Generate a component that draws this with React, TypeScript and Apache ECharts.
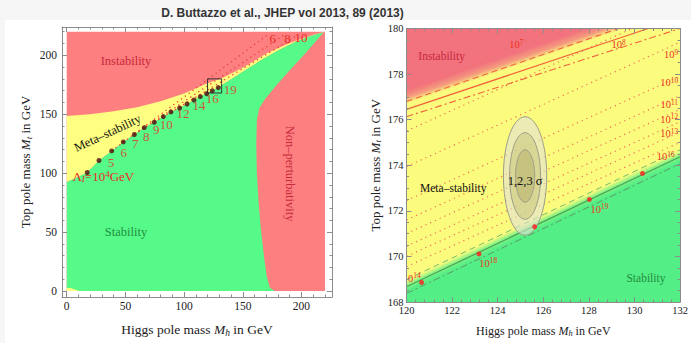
import React, { useEffect, useRef } from 'react';
import * as echarts from 'echarts';

type P = [number, number];

// ================= Left panel: full (Mh, Mt) plane =================
const leftMajorTicks = [0, 50, 100, 150, 200];
const leftPlotBox: P[] = [[0, 0], [220, 0], [220, 220], [0, 220]];
// upper edge of the meta-stable band (instability boundary)
const instabilityEdge: P[] = [[0, 148.5], [20, 150], [40, 152.5], [60, 156], [80, 161], [100, 167.5], [120, 176.3], [132, 180.5], [150, 189.5], [170, 201.5], [190, 210.5], [210, 217.5], [220, 220]];
// lower edge of the meta-stable band (stability boundary)
const stabilityEdge: P[] = [[0, 92.5], [8, 96], [17.5, 100.6], [27.5, 110.8], [38.3, 118.9], [48.2, 126.5], [57.6, 132.8], [66.1, 138.7], [74.6, 143.2], [82.3, 148], [88.8, 152], [96.2, 155.3], [102.5, 158.7], [108.4, 162.1], [113.8, 165], [119.2, 167.8], [124, 170.2], [129.1, 172.7], [135, 176.5], [150, 186], [165, 195.5], [180, 204], [195, 211.5], [210, 217], [219, 219.5]];
// right edge of the stable region (non-perturbativity boundary), top to bottom
const perturbativityEdge: P[] = [[219, 219.5], [213, 212.7], [203, 201.4], [190, 187.3], [177.4, 173.1], [169, 163], [164, 155], [162, 145], [161.5, 125], [162, 100], [163.5, 75], [165.5, 52], [168, 30], [170.5, 12], [173, 3], [177, 0]];
const lowCornerSliver: P[] = [[0, 0], [0, 2.8], [4, 2.4], [9, 0.8], [11, 0]];
// cut-off scale dots along the stability boundary
const lambdaDots: P[] = [[17.5, 100.6], [27.5, 110.8], [38.3, 118.9], [48.2, 126.5], [57.6, 132.8], [66.1, 138.7], [74.6, 143.2], [82.3, 148], [88.8, 152], [96.2, 155.3], [102.5, 158.7], [108.4, 162.1], [113.8, 165], [119.2, 167.5], [124, 170], [129.1, 172.6]];
const lambdaExponents = [4, 5, 6, 7, 8, 9, 10, 11, 12, 13, 14, 15, 16, 17, 18, 19];
const labelledExponents = [5, 6, 7, 8, 9, 10, 12, 14, 16, 19];
// dotted instability-scale contours
const lambdaContours: P[][] = [
  [[38.3, 118.9], [172, 218]],
  [[57.6, 132.8], [185, 217]],
  [[74.6, 143.2], [197, 217]],
];
const lambdaContourLabels = ['6', '8', '10'];
const lambdaContourLabelAt: P[] = [[175.5, 214.2], [188, 214.2], [199.5, 215.5]];
const zoomWindow: P[] = [[120, 168], [132, 168], [132, 180], [120, 180], [120, 168]];
const leftRegionNames = ['Instability', 'Meta\u2013stability', 'Stability', 'Non\u2013perturbativity'];
const leftRegionAt: P[] = [[50.5, 195], [34.8, 134], [50.5, 50.3], [190.2, 99.7]];
const lambdaStartAt: P[] = [[31.2, 97.2]];

// ================= Right panel: zoom on 120-132 x 168-180 =================
const rightXMajor = [120, 122, 124, 126, 128, 130, 132];
const rightYMajor = [168, 170, 172, 174, 176, 178, 180];
const rightPlotBox: P[] = [[120, 168], [132, 168], [132, 180], [120, 180]];
const redFadeEdge: P[] = [[120, 176.7], [129.6, 180]];
const redFullEdge: P[] = [[120, 177.3], [127.2, 180]];
const greenFadeEdge: P[] = [[120, 168.95], [132, 174.65]];
const greenFullEdge: P[] = [[120, 168.45], [132, 174.1]];
const instSolid: P[] = [[120, 176.45], [130.6, 180]];
const instDashed: P[] = [[120, 176.8], [129.3, 180]];
const instDashDot: P[] = [[120, 176.13], [132, 180]];
const stabSolid: P[] = [[120, 168.67], [132, 174.37]];
const stabDashed: P[] = [[120, 168.98], [132, 174.68]];
const stabDashDot: P[] = [[120, 168.38], [132, 174.07]];
const rightLambdaLines: P[][] = [
  [[120, 177.1], [132, 182.56]],
  [[120, 175.5], [132, 180.96]],
  [[120, 173.94], [132, 179.4]],
  [[120, 172.45], [132, 177.91]],
  [[120, 171.6], [132, 177.06]],
  [[120, 171.0], [132, 176.46]],
  [[120, 170.45], [132, 175.91]],
  [[120, 170.0], [132, 175.46]],
  [[120, 169.55], [132, 175.01]],
];
const rightLambdaExp = ['7', '8', '9', '10', '11', '12', '13', '16', '19', '18', '14'];
const rightLambdaAt: P[] = [[124.82, 179.28], [129.3, 179.28], [131.6, 178.84], [131.52, 177.62], [131.52, 176.66], [131.52, 176.02], [131.52, 175.38], [131.37, 174.37], [128.46, 172.07], [123.58, 169.7], [120.23, 169.04]];
const rightDots: P[] = [[120.66, 168.86], [123.18, 170.11], [125.62, 171.3], [128.02, 172.5], [130.35, 173.64]];
const ellipseCenter: P = [125.2, 173.53];
const ellipseRadii: P[] = [[0.95, 2.6], [0.68, 1.9], [0.42, 1.15]]; // 3, 2, 1 sigma
const rightRegionNames = ['Instability', 'Meta\u2013stability', 'Stability', '1,2,3 \u03c3'];
const rightRegionAt: P[] = [[121.54, 178.8], [122.05, 172.99], [130.5, 169.04], [125.2, 173.33]];

const titleText = 'D. Buttazzo et al., JHEP vol 2013, 89 (2013)';

// ================= styles =================
const SERIF = '"Liberation Serif", "Times New Roman", "DejaVu Serif", serif';
const SANS = '"Liberation Sans", Arial, Helvetica, sans-serif';
const FRAME = '#8c8c8c';
const RED_TXT = '#c8283c';
const GREEN_TXT = '#1f8f3e';
const LAMBDA_RED = '#ea2b25';

const steps = (a: number, b: number, s: number) => {
  const out: number[] = [];
  for (let i = 0; a + i * s <= b + 1e-9; i++) out.push(+(a + i * s).toFixed(4));
  return out;
};

function axisSet(dim: 'x' | 'y', gridIndex: number, min: number, max: number, major: number[], minor: number[], labelSize: number, labelMargin: number, name: string, nameGap: number, nameSize: number) {
  const posA = dim === 'x' ? 'bottom' : 'left';
  const posB = dim === 'x' ? 'top' : 'right';
  const sub = { fontFamily: SERIF, fontStyle: 'italic', fontSize: nameSize * 0.7, color: '#222', padding: [nameSize * 0.45, 0, 0, 0] };
  const mk = (position: string, isMajor: boolean, labelled: boolean) => ({
    type: 'value', gridIndex, min, max, position, z: 10, silent: true,
    splitLine: { show: false },
    axisLine: { show: isMajor, onZero: false, lineStyle: { color: FRAME, width: 1 } },
    axisTick: { show: true, inside: true, length: isMajor ? 5 : 2.5, customValues: isMajor ? major : minor, lineStyle: { color: FRAME, width: 1 } },
    axisLabel: labelled
      ? { show: true, customValues: major, margin: labelMargin, fontFamily: SERIF, fontSize: labelSize, color: '#222' }
      : { show: false },
    ...(labelled
      ? {
          name, nameLocation: 'middle', nameGap,
          nameTextStyle: {
            fontFamily: SERIF, fontSize: nameSize, color: '#222',
            rich: {
              a: { fontFamily: SERIF, fontSize: nameSize, color: '#222' },
              m: { fontFamily: SERIF, fontSize: nameSize, color: '#222', fontStyle: 'italic' },
              s: sub,
            },
          },
        }
      : {}),
  });
  return [mk(posA, true, true), mk(posA, false, false), mk(posB, true, false), mk(posB, false, false)];
}

const axIdx = (g: number) => (g === 0 ? 0 : 4);

function polyLayer(g: number, pts: P[], fill: string, z: number) {
  return {
    type: 'custom', xAxisIndex: axIdx(g), yAxisIndex: axIdx(g), silent: true, z,
    data: [pts[0]],
    renderItem: (_p: any, api: any) => ({ type: 'polygon', shape: { points: pts.map((q) => api.coord(q)) }, style: { fill } }),
  };
}

function bandLayer(g: number, polygon: P[], fade: P[], full: P[], rgb: string, z: number) {
  return {
    type: 'custom', xAxisIndex: axIdx(g), yAxisIndex: axIdx(g), silent: true, z,
    data: [polygon[0]],
    renderItem: (_p: any, api: any) => {
      const a = api.coord(fade[0]);
      const b = api.coord(fade[1]);
      const f = api.coord(full[0]);
      const dx = b[0] - a[0];
      const dy = b[1] - a[1];
      const len = Math.hypot(dx, dy);
      let nx = dy / len;
      let ny = -dx / len;
      const vx = f[0] - a[0];
      const vy = f[1] - a[1];
      if (nx * vx + ny * vy < 0) { nx = -nx; ny = -ny; }
      const w = Math.abs(nx * vx + ny * vy);
      return {
        type: 'polygon',
        shape: { points: polygon.map((q) => api.coord(q)) },
        style: {
          fill: new echarts.graphic.LinearGradient(a[0], a[1], a[0] + nx * w, a[1] + ny * w, [
            { offset: 0, color: `rgba(${rgb},0)` },
            { offset: 0.45, color: `rgba(${rgb},0.7)` },
            { offset: 1, color: `rgba(${rgb},1)` },
          ], true),
        },
      };
    },
  };
}

function lineLayer(g: number, data: P[], color: string, width: number, type: any, z: number) {
  return {
    type: 'line', xAxisIndex: axIdx(g), yAxisIndex: axIdx(g), data, symbol: 'none', silent: true, z, clip: true,
    lineStyle: { color, width, type },
  };
}

function textLayer(g: number, at: P[], build: (i: number) => any, z: number, clip = false) {
  return {
    type: 'custom', xAxisIndex: axIdx(g), yAxisIndex: axIdx(g), silent: true, z, clip,
    data: at.map((p) => [p[0], p[1]]),
    renderItem: (params: any, api: any) => {
      const p = api.coord([api.value(0), api.value(1)]);
      const el = build(params.dataIndex);
      return { type: 'text', x: p[0], y: p[1], rotation: el.rotation || 0, style: { align: 'center', verticalAlign: 'middle', ...el.style } };
    },
  };
}

const powRich = (size: number, color: string) => ({
  b: { fontFamily: SERIF, fontSize: size, fill: color },
  e: { fontFamily: SERIF, fontSize: size * 0.7, fill: color, padding: [0, 0, size * 0.45, 0] },
  i: { fontFamily: SERIF, fontSize: size * 0.7, fill: color, fontStyle: 'italic', padding: [size * 0.4, 0, 0, 0] },
});

function buildOption() {
  const leftGreen: P[] = [...stabilityEdge, ...perturbativityEdge.slice(1), [0, 0]];
  const leftYellow: P[] = [...instabilityEdge, ...stabilityEdge.slice().reverse()];
  const redPoly: P[] = [[120, 180], redFadeEdge[0], redFadeEdge[1]];
  const greenPoly: P[] = [[120, 168], greenFadeEdge[0], greenFadeEdge[1], [132, 168]];
  const xName = '{a|Higgs pole mass }{m|M}{s|h}{a| in GeV}';
  const yName = '{a|Top pole mass }{m|M}{s|t}{a| in GeV}';

  const series: any[] = [
    // ---- left panel regions
    polyLayer(0, leftPlotBox, '#fd7f80', 1),
    polyLayer(0, leftYellow, '#fefe80', 1),
    polyLayer(0, leftGreen, '#55fa89', 1),
    polyLayer(0, lowCornerSliver, '#fefe80', 1),
    ...lambdaContours.map((c) => lineLayer(0, c, '#e8423a', 1.3, [1.3, 3.5], 3)),
    lineLayer(0, zoomWindow, '#333333', 1, 'solid', 5),
    {
      type: 'scatter', xAxisIndex: 0, yAxisIndex: 0, symbolSize: 5, z: 6, silent: true,
      itemStyle: { color: '#4d0b0b' },
      label: { position: 'inside', offset: [12, 2], color: LAMBDA_RED, fontFamily: SERIF, fontSize: 13 },
      data: lambdaDots.map((p, i) => ({
        value: p,
        label: { show: labelledExponents.includes(lambdaExponents[i]), formatter: String(lambdaExponents[i]) },
      })),
    },
    textLayer(0, lambdaContourLabelAt, (i) => ({ style: { text: lambdaContourLabels[i], fontFamily: SERIF, fontSize: 13, fill: LAMBDA_RED } }), 7),
    textLayer(0, lambdaStartAt, () => ({
      style: {
        text: '{b|\u039b}{i|I}{b|=10}{e|4}{b|GeV}',
        rich: powRich(13, LAMBDA_RED),
      },
    }), 7),
    textLayer(0, leftRegionAt, (i) => ({
      rotation: i === 1 ? (25 * Math.PI) / 180 : i === 3 ? -Math.PI / 2 : 0,
      style: { text: leftRegionNames[i], fontFamily: SERIF, fontSize: 12.5, fill: i === 1 ? '#111' : i === 2 ? GREEN_TXT : RED_TXT },
    }), 7),

    // ---- right panel regions
    polyLayer(1, rightPlotBox, '#fbfb7e', 1),
    bandLayer(1, redPoly, redFadeEdge, redFullEdge, '242,114,126', 1),
    bandLayer(1, greenPoly, greenFadeEdge, greenFullEdge, '84,238,134', 1),
    ...rightLambdaLines.map((l) => lineLayer(1, l, '#f07058', 1.2, [1.2, 4], 3)),
    lineLayer(1, instDashed, '#f0643c', 1.1, [6, 4], 3),
    lineLayer(1, instSolid, '#f0643c', 1.3, 'solid', 3),
    lineLayer(1, instDashDot, '#f0643c', 1.1, [7, 3, 2, 3], 3),
    lineLayer(1, stabDashed, '#6cbf6c', 1, [6, 4], 3),
    lineLayer(1, stabSolid, '#4aa456', 1.2, 'solid', 3),
    lineLayer(1, stabDashDot, '#5f9a66', 1, [7, 3, 2, 3], 3),
    {
      type: 'custom', xAxisIndex: 4, yAxisIndex: 4, silent: true, z: 4,
      data: ellipseRadii.map(() => ellipseCenter),
      renderItem: (params: any, api: any) => {
        const c = api.coord(ellipseCenter);
        const r = ellipseRadii[params.dataIndex];
        const ex = api.coord([ellipseCenter[0] + r[0], ellipseCenter[1]]);
        const ey = api.coord([ellipseCenter[0], ellipseCenter[1] + r[1]]);
        const fills = ['rgba(225,225,215,0.6)', 'rgba(200,195,120,0.5)', 'rgba(180,175,110,0.5)'];
        return {
          type: 'ellipse',
          shape: { cx: c[0], cy: c[1], rx: Math.abs(ex[0] - c[0]), ry: Math.abs(c[1] - ey[1]) },
          style: { fill: fills[params.dataIndex], stroke: '#9f9e88', lineWidth: 1 },
        };
      },
    },
    {
      type: 'scatter', xAxisIndex: 4, yAxisIndex: 4, symbolSize: 5, z: 6, silent: true,
      itemStyle: { color: '#ff1a1a' }, data: rightDots,
    },
    textLayer(1, rightLambdaAt, (i) => ({
      style: { text: `{b|10}{e|${rightLambdaExp[i]}}`, rich: powRich(10.5, '#ee3322') },
    }), 7, true),
    textLayer(1, rightRegionAt, (i) => ({
      style: {
        text: rightRegionNames[i], fontFamily: SERIF, fontSize: i === 3 ? 12.5 : 11.5,
        fill: i === 0 ? RED_TXT : i === 2 ? GREEN_TXT : '#111',
      },
    }), 7),
  ];

  return {
    animation: false,
    backgroundColor: 'transparent',
    grid: [
      { left: 62, top: 27, width: 270, height: 270 },
      { left: 406.5, top: 28.5, width: 274.5, height: 273.5 },
    ],
    xAxis: [
      ...axisSet('x', 0, -4, 226, leftMajorTicks, steps(0, 220, 10), 11.5, 3, xName, 25, 13.5),
      ...axisSet('x', 1, 120, 132, rightXMajor, steps(120, 132, 0.4), 10.5, 3, xName, 22, 12),
    ],
    yAxis: [
      ...axisSet('y', 0, -5, 224, leftMajorTicks, steps(0, 220, 10), 11.5, 5, yName, 29, 13),
      ...axisSet('y', 1, 168, 180, rightYMajor, steps(168, 180, 0.5), 10.5, 3, yName, 24, 13),
    ],
    graphic: [
      {
        type: 'text', x: 282.5, y: 12.5, z: 20,
        style: { text: titleText, fontFamily: SANS, fontWeight: 'bold', fontSize: 12, fill: '#333', align: 'center', verticalAlign: 'middle' },
      },
    ],
    series,
  };
}

export default function App() {
  const ref = useRef<HTMLDivElement>(null);
  useEffect(() => {
    if (!ref.current) return;
    const chart = echarts.init(ref.current, null, { renderer: 'svg' });
    chart.setOption(buildOption() as any);
    return () => chart.dispose();
  }, []);
  return (
    <div style={{ position: 'fixed', left: 0, top: 0, width: 691, height: 343, background: '#f6f6f6', overflow: 'hidden' }}>
      <div style={{ position: 'absolute', left: 5, top: 20, width: 686, height: 323, background: '#ffffff' }} />
      <div ref={ref} style={{ position: 'absolute', left: 0, top: 0, width: 691, height: 343 }} />
    </div>
  );
}
